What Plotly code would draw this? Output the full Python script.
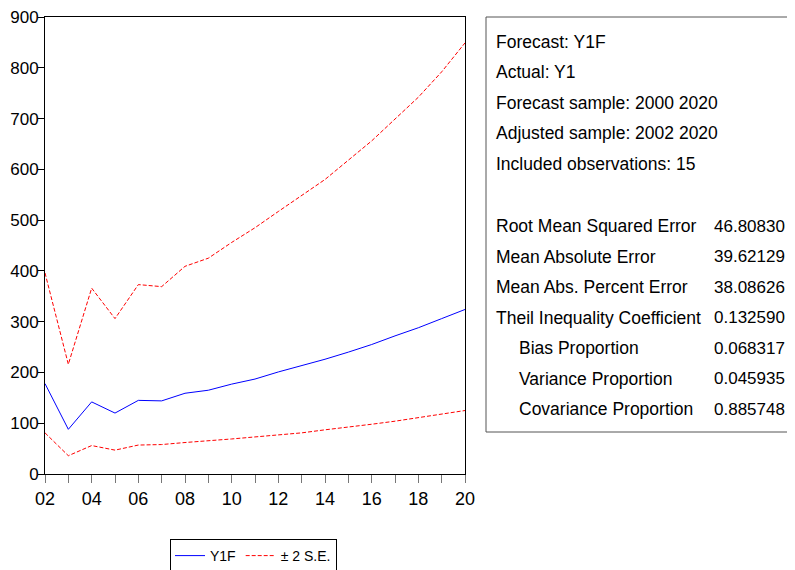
import plotly.graph_objects as go

years = list(range(2002, 2021))
y1f = [178, 88, 142, 120, 145, 144, 159, 165, 177, 187, 201, 213, 226, 240, 255, 272, 288, 306, 324]
upper = [396, 216, 366, 306, 373, 369, 409, 425, 456, 485, 517, 548, 580, 618, 656, 699, 742, 792, 849]
lower = [81, 36, 56, 47, 57, 58, 62, 65, 69, 73, 77, 81, 87, 92, 98, 104, 111, 117, 125]

x_tick_labels = ["02", "", "04", "", "06", "", "08", "", "10", "", "12", "", "14", "", "16", "", "18", "", "20"]

stats_header = [
    "Forecast: Y1F",
    "Actual: Y1",
    "Forecast sample: 2000 2020",
    "Adjusted sample: 2002 2020",
    "Included observations: 15",
]
stat_names = [
    "Root Mean Squared Error",
    "Mean Absolute Error",
    "Mean Abs. Percent Error",
    "Theil Inequality Coefficient",
    "Bias Proportion",
    "Variance Proportion",
    "Covariance Proportion",
]
stat_indent = [False, False, False, False, True, True, True]
stat_values = ["46.80830", "39.62129", "38.08626", "0.132590", "0.068317", "0.045935", "0.885748"]

# page offset of the figure inside the browser (body margin)
OFF = 8
W, H = 795 - OFF, 570 - OFF
# plot frame in page pixels
L, R, T, B = 45, 465, 17, 474
FONT = "Liberation Sans, Arial, sans-serif"
NARROW = "Liberation Sans Narrow, Arial Narrow, Liberation Sans, sans-serif"

def px(xp):
    return (xp - L) / (R - L)

def py(yp):
    return (B - yp) / (B - T)

fig = go.Figure()
fig.add_trace(go.Scatter(x=years, y=y1f, mode="lines", name="Y1F",
                         line=dict(color="#0000ff", width=1)))
fig.add_trace(go.Scatter(x=years, y=upper, mode="lines", name="± 2 S.E.",
                         legendgroup="se", line=dict(color="#ff0000", width=1, dash="4px,2px")))
fig.add_trace(go.Scatter(x=years, y=lower, mode="lines", name="± 2 S.E.",
                         legendgroup="se", showlegend=False,
                         line=dict(color="#ff0000", width=1, dash="4px,2px")))

annotations = []
y0 = 42
for i, t in enumerate(stats_header):
    annotations.append(dict(x=px(494), y=py(y0 + i * 30.4), xref="paper", yref="paper",
                            text=t, showarrow=False, xanchor="left", yanchor="middle",
                            font=dict(family=FONT, size=17.5, color="black")))
y1 = 226
for i, (n, ind, v) in enumerate(zip(stat_names, stat_indent, stat_values)):
    yy = py(y1 + i * 30.5)
    annotations.append(dict(x=px(517 if ind else 494), y=yy, xref="paper", yref="paper",
                            text=n, showarrow=False, xanchor="left", yanchor="middle",
                            font=dict(family=FONT, size=17.5, color="black")))
    annotations.append(dict(x=px(712), y=yy, xref="paper", yref="paper",
                            text=v, showarrow=False, xanchor="left", yanchor="middle",
                            font=dict(family=FONT, size=17, color="black")))

fig.update_layout(
    template="none",
    width=W, height=H,
    margin=dict(l=L - OFF, r=795 - R, t=T - OFF, b=570 - B, pad=0, autoexpand=False),
    paper_bgcolor="white", plot_bgcolor="white",
    font=dict(family=FONT, size=15, color="black"),
    showlegend=True,
    legend=dict(orientation="h", x=px(170), y=py(539), xanchor="left", yanchor="top",
                bordercolor="black", borderwidth=1, bgcolor="white",
                font=dict(family=FONT, size=14, color="black"),
                itemwidth=30, tracegroupgap=0),
    annotations=annotations,
    shapes=[dict(type="rect", xref="paper", yref="paper",
                 x0=px(486), x1=px(820), y0=py(432), y1=py(17),
                 line=dict(color="#555555", width=1), fillcolor="rgba(0,0,0,0)")],
)
fig.update_xaxes(range=[2002, 2020], tickmode="array", tickvals=years, ticktext=x_tick_labels,
                 ticks="outside", ticklen=8, tickcolor="#777777", tickwidth=1,
                 showline=True, linecolor="black", linewidth=1, mirror=True,
                 showgrid=False, zeroline=False, automargin=False, ticklabeloverflow="allow",
                 tickfont=dict(family=NARROW, size=18, color="black"))
fig.update_yaxes(range=[0, 900], dtick=100, ticks="outside", ticklen=6, tickcolor="black",
                 showline=True, linecolor="black", linewidth=1, mirror=True,
                 showgrid=False, zeroline=False, automargin=False, ticklabeloverflow="allow",
                 ticklabelstandoff=-4,
                 tickfont=dict(family=NARROW, size=17, color="black"))

fig.write_html("out.html")
